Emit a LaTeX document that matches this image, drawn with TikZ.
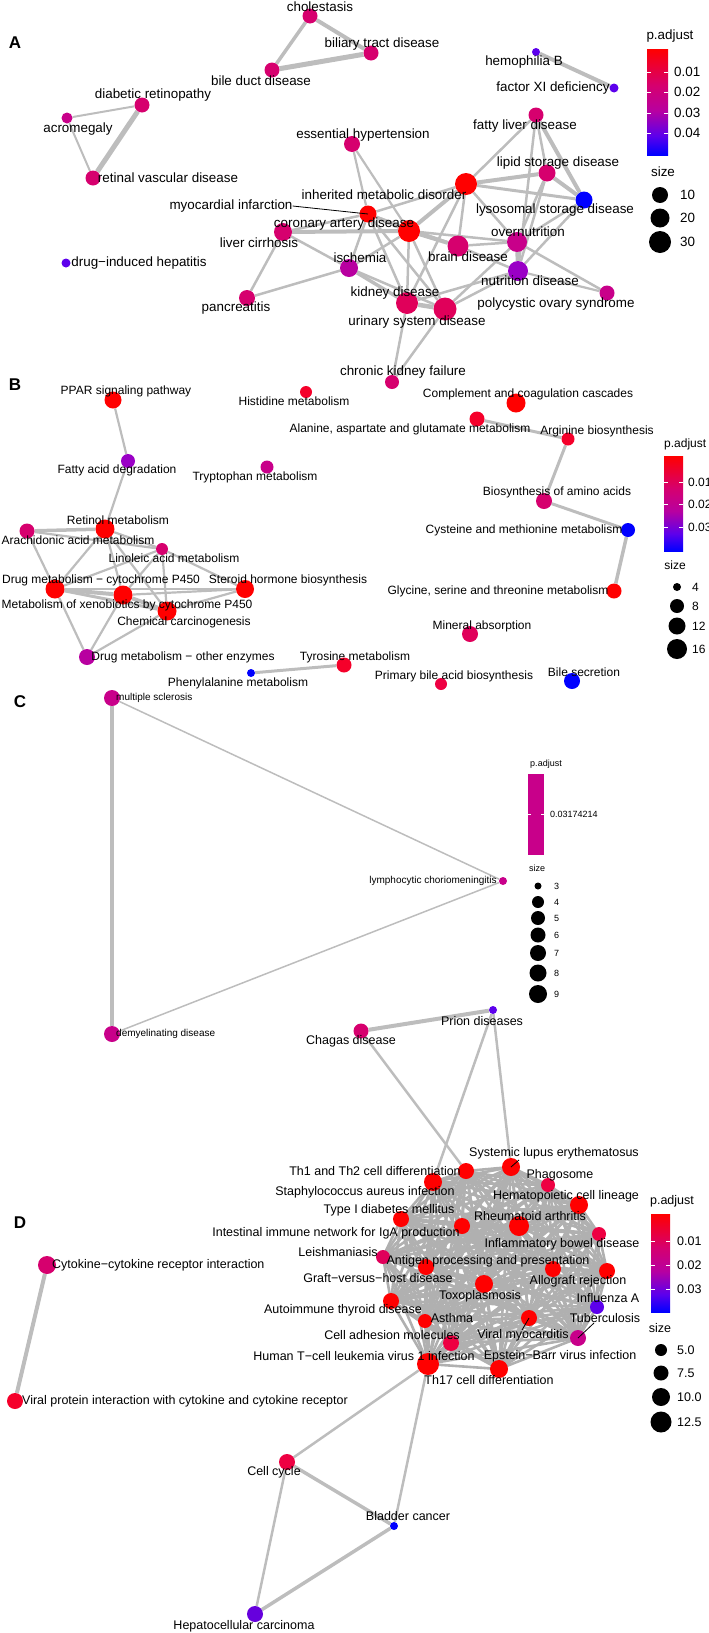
\documentclass[tikz,border=0pt]{standalone}
\usepackage{fontspec}
\setmainfont{Liberation Sans}
\usetikzlibrary{backgrounds}

\definecolor{edgegray}{HTML}{BDBDBD}
\definecolor{densegray}{HTML}{B0B0B0}
\definecolor{cRed}{HTML}{FF0000}
\definecolor{cRedP}{HTML}{F5002A}
\definecolor{cRedK}{HTML}{EE0042}
\definecolor{cPinkR}{HTML}{E0005A}
\definecolor{cPink}{HTML}{D6006E}
\definecolor{cPinkM}{HTML}{C8008A}
\definecolor{cMag}{HTML}{B800A0}
\definecolor{cPurp}{HTML}{9A00C6}
\definecolor{cViol}{HTML}{5C00EC}
\definecolor{cViolH}{HTML}{6600DD}
\definecolor{cBlue}{HTML}{0000FF}

\pgfdeclareverticalshading{padjbar}{100bp}{color(0bp)=(cBlue); color(25bp)=(cBlue);
  color(34bp)=(cViol); color(46bp)=(cMag); color(58bp)=(cPink); color(75bp)=(cRed); color(100bp)=(cRed)}

\begin{document}
\begin{tikzpicture}[x=1pt, y=-1pt,
    term/.style={circle, inner sep=0pt, minimum size=#1},
    term/.default=12,
    link/.style={draw=edgegray, line width=#1},
    link/.default=2.2,
    dense/.style={draw=densegray, line width=2.6pt},
    leader/.style={draw=black, line width=0.8pt},
    lblA/.style={font=\fontsize{13.4}{15}\selectfont, inner sep=0pt},
    lblB/.style={font=\fontsize{12}{14}\selectfont, inner sep=0pt},
    lblC/.style={font=\fontsize{10}{12}\selectfont, inner sep=0pt},
    lblD/.style={font=\fontsize{12.5}{14}\selectfont, inner sep=0pt},
    legC/.style={font=\fontsize{9}{11}\selectfont, inner sep=0pt},
    panel/.style={font=\fontsize{17}{19}\selectfont\bfseries, inner sep=0pt},
    tick/.style={draw=white, line width=0.6pt}]
    \useasboundingbox (0,0) rectangle (709,1633);

    % ---------------- Panel A ----------------
    \node[panel] (pA) at (15,43) {A};
    \node[term=15, fill=cPink] (chol) at (310,16) {};
    \node[term=15, fill=cPink] (bil) at (371,53) {};
    \node[term=15, fill=cPink] (bile) at (272,70) {};
    \node[term=15, fill=cPink] (diab) at (142,105) {};
    \node[term=11, fill=cPinkM] (acro) at (67,118) {};
    \node[term=15, fill=cPink] (retin) at (93,178) {};
    \node[term=8, fill=cViol] (hemo) at (536,52) {};
    \node[term=9, fill=cViol] (fxi) at (614,88) {};
    \node[term=15, fill=cPink] (fatty) at (536,115) {};
    \node[term=17, fill=cPink] (lipid) at (547,173) {};
    \node[term=22, fill=cRed] (imd) at (466,184) {};
    \node[term=17, fill=cBlue] (lyso) at (584,200) {};
    \node[term=17, fill=cRed] (mi) at (368,214) {};
    \node[term=22, fill=cRed] (cad) at (409,231) {};
    \node[term=16, fill=cPink] (ess) at (352,144) {};
    \node[term=18, fill=cPink] (lc) at (283,232) {};
    \node[term=18, fill=cMag] (isch) at (349,268) {};
    \node[term=9, fill=cViol] (dih) at (66,263) {};
    \node[term=16, fill=cPink] (panc) at (247,298) {};
    \node[term=21, fill=cPink] (brain) at (458,246) {};
    \node[term=20, fill=cPinkM] (overn) at (517,242) {};
    \node[term=20, fill=cPurp] (nutr) at (518,271) {};
    \node[term=15, fill=cPinkM] (poly) at (607,293) {};
    \node[term=22, fill=cPinkR] (kid) at (407,303) {};
    \node[term=23, fill=cPinkR] (uri) at (445,309) {};
    \node[term=14, fill=cPink] (ckf) at (392,382) {};

    \node[lblA] (lchol) at (320,7) {cholestasis};
    \node[lblA] (lbil) at (382,44) {biliary tract disease};
    \node[lblA] (lbile) at (261,81) {bile duct disease};
    \node[lblA] (ldiab) at (153,95) {diabetic retinopathy};
    \node[lblA] (lacro) at (78,129) {acromegaly};
    \node[lblA] (lretin) at (168,178) {retinal vascular disease};
    \node[lblA] (lhemo) at (524,62) {hemophilia B};
    \node[lblA] (lfxi) at (553,88) {factor XI deficiency};
    \node[lblA] (lfatty) at (525,126) {fatty liver disease};
    \node[lblA] (llipid) at (558,163) {lipid storage disease};
    \node[lblA] (limd) at (384,195) {inherited metabolic disorder};
    \node[lblA] (llyso) at (555,210) {lysosomal storage disease};
    \node[lblA] (lmi) at (231,206) {myocardial infarction};
    \node[lblA] (lcad) at (344,224) {coronary artery disease};
    \node[lblA] (less) at (363,135) {essential hypertension};
    \node[lblA] (llc) at (259,243) {liver cirrhosis};
    \node[lblA] (lisch) at (360,258) {ischemia};
    \node[lblA] (ldih) at (139,263) {drug−induced hepatitis};
    \node[lblA] (lpanc) at (236,308) {pancreatitis};
    \node[lblA] (lbrain) at (468,257) {brain disease};
    \node[lblA] (lovern) at (528,232) {overnutrition};
    \node[lblA] (lnutr) at (530,281) {nutrition disease};
    \node[lblA] (lpoly) at (556,304) {polycystic ovary syndrome};
    \node[lblA] (lkid) at (395,293) {kidney disease};
    \node[lblA] (luri) at (417,322) {urinary system disease};
    \node[lblA] (lckf) at (403,372) {chronic kidney failure};
    \draw[leader] (lmi.east) -- (mi.center);

    % legend A
    \node[lblA] (padjA) at (670,36) {p.adjust};
    \shade[shading=padjbar] (647,49) rectangle (668,155);
    \foreach \y/\v in {72/0.01, 92/0.02, 113/0.03, 133/0.04} {
        \draw[tick] (647,\y) -- (651,\y) (664,\y) -- (668,\y);
        \node[lblA, anchor=west] at (674,\y) {\v};
    }
    \node[lblA] (sizeA) at (663,172) {size};
    \foreach \y/\d/\v in {195/16/10, 218/19/20, 242/22/30} {
        \node[term=\d, fill=black] at (660,\y) {};
        \node[lblA, anchor=west] at (680,\y) {\v};
    }

    % ---------------- Panel B ----------------
    \node[panel] (pB) at (15,385) {B};
    \node[term=17, fill=cRed] (ppar) at (113,400) {};
    \node[term=14, fill=cPurp] (fad) at (128,461) {};
    \node[term=12, fill=cRedP] (his) at (306,392) {};
    \node[term=13, fill=cPinkM] (trp) at (267,467) {};
    \node[term=19, fill=cRed] (ret) at (105,529) {};
    \node[term=15, fill=cPink] (ara) at (27,531) {};
    \node[term=12, fill=cPink] (lin) at (162,549) {};
    \node[term=19, fill=cRed] (dp450) at (55,589) {};
    \node[term=18, fill=cRed] (ster) at (245,589) {};
    \node[term=19, fill=cRed] (xen) at (123,595) {};
    \node[term=19, fill=cRed] (chem) at (167,611) {};
    \node[term=16, fill=cMag] (dother) at (87,657) {};
    \node[term=15, fill=cRedP] (tyr) at (344,665) {};
    \node[term=8, fill=cBlue] (phe) at (251,673) {};
    \node[term=19, fill=cRed] (comp) at (516,403) {};
    \node[term=15, fill=cRedP] (ala) at (477,419) {};
    \node[term=13, fill=cRedP] (arg) at (568,439) {};
    \node[term=16, fill=cPink] (bio) at (544,501) {};
    \node[term=14, fill=cBlue] (cys) at (628,530) {};
    \node[term=15, fill=cRed] (gly) at (614,591) {};
    \node[term=16, fill=cPinkR] (mina) at (470,634) {};
    \node[term=12, fill=cRedK] (pba) at (441,684) {};
    \node[term=16, fill=cBlue] (bsec) at (572,681) {};

    \node[lblB] (lppar) at (126,391) {PPAR signaling pathway};
    \node[lblB] (lfad) at (117,470) {Fatty acid degradation};
    \node[lblB] (lhis) at (294,401) {Histidine metabolism};
    \node[lblB] (ltrp) at (255,477) {Tryptophan metabolism};
    \node[lblB] (lret) at (118,520) {Retinol metabolism};
    \node[lblB] (lara) at (78,540) {Arachidonic acid metabolism};
    \node[lblB] (llin) at (174,558) {Linoleic acid metabolism};
    \node[lblB] (ldp450) at (101,580) {Drug metabolism − cytochrome P450};
    \node[lblB] (lster) at (288,580) {Steroid hormone biosynthesis};
    \node[lblB] (lxen) at (127,605) {Metabolism of xenobiotics by cytochrome P450};
    \node[lblB] (lchem) at (184,622) {Chemical carcinogenesis};
    \node[lblB] (ldother) at (183,657) {Drug metabolism − other enzymes};
    \node[lblB] (ltyr) at (355,657) {Tyrosine metabolism};
    \node[lblB] (lphe) at (238,683) {Phenylalanine metabolism};
    \node[lblB] (lcomp) at (528,394) {Complement and coagulation cascades};
    \node[lblB] (lala) at (410,429) {Alanine, aspartate and glutamate metabolism};
    \node[lblB] (larg) at (597,431) {Arginine biosynthesis};
    \node[lblB] (lbio) at (557,492) {Biosynthesis of amino acids};
    \node[lblB] (lcys) at (524,530) {Cysteine and methionine metabolism};
    \node[lblB] (lgly) at (498,591) {Glycine, serine and threonine metabolism};
    \node[lblB] (lmina) at (482,626) {Mineral absorption};
    \node[lblB] (lpba) at (454,676) {Primary bile acid biosynthesis};
    \node[lblB] (lbsec) at (584,672) {Bile secretion};

    % legend B
    \node[lblB, anchor=west] (padjB) at (664,444) {p.adjust};
    \shade[shading=padjbar] (664,456) rectangle (683,551);
    \foreach \y/\v in {482/0.01, 504/0.02, 527/0.03} {
        \draw[tick] (664,\y) -- (668,\y) (679,\y) -- (683,\y);
        \node[lblB, anchor=west] at (688,\y) {\v};
    }
    \node[lblB] (sizeB) at (675,565) {size};
    \foreach \y/\d/\v in {587/8/4, 606/14/8, 626/17/12, 649/20/16} {
        \node[term=\d, fill=black] at (677,\y) {};
        \node[lblB, anchor=west] at (692,\y) {\v};
    }

    % ---------------- Panel C ----------------
    \node[panel] (pC) at (20,702) {C};
    \node[term=16, fill=cPinkM] (ms) at (112,698) {};
    \node[term=16, fill=cPinkM] (dem) at (112,1034) {};
    \node[term=8, fill=cPinkM] (lcm) at (503,881) {};
    \node[lblC, anchor=west] (lms) at (116,698) {multiple sclerosis};
    \node[lblC, anchor=west] (ldem) at (116,1034) {demyelinating disease};
    \node[lblC] (llcm) at (433,881) {lymphocytic choriomeningitis};

    % legend C
    \node[legC] (padjC) at (546,764) {p.adjust};
    \fill[cPinkM] (528,774) rectangle (544,855);
    \draw[tick] (528,814) -- (531,814) (541,814) -- (544,814);
    \node[legC, anchor=west] at (550,814) {0.03174214};
    \node[legC] (sizeC) at (537,868) {size};
    \foreach \y/\d/\v in {886/7/3, 902/12/4, 918/14/5, 935/15/6, 953/16/7, 973/17/8, 994/18/9} {
        \node[term=\d, fill=black] at (538,\y) {};
        \node[legC, anchor=west] at (554,\y) {\v};
    }

    % ---------------- Panel D ----------------
    \node[panel] (pD) at (20,1223) {D};
    \node[term=15, fill=cPink] (chag) at (361,1031) {};
    \node[term=8, fill=cViol] (prion) at (493,1010) {};
    \node[term=16, fill=cRed] (th1) at (466,1171) {};
    \node[term=18, fill=cRed] (staph) at (433,1182) {};
    \node[term=18, fill=cRed] (sle) at (511,1167) {};
    \node[term=14, fill=cRedK] (phago) at (548,1185) {};
    \node[term=18, fill=cRed] (hemat) at (579,1205) {};
    \node[term=16, fill=cRed] (t1d) at (401,1219) {};
    \node[term=20, fill=cRed] (rheum) at (519,1226) {};
    \node[term=16, fill=cRed] (iga) at (462,1226) {};
    \node[term=14, fill=cRedK] (ibd) at (599,1234) {};
    \node[term=14, fill=cPinkR] (leish) at (383,1257) {};
    \node[term=16, fill=cRed] (antig) at (426,1267) {};
    \node[term=16, fill=cRed] (gvh) at (553,1269) {};
    \node[term=16, fill=cRed] (allo) at (607,1271) {};
    \node[term=18, fill=cRed] (toxo) at (484,1284) {};
    \node[term=14, fill=cViol] (flu) at (597,1307) {};
    \node[term=16, fill=cRed] (autoi) at (391,1301) {};
    \node[term=14, fill=cRed] (asth) at (425,1321) {};
    \node[term=16, fill=cRed] (vmyo) at (529,1318) {};
    \node[term=16, fill=cPinkM] (tb) at (578,1338) {};
    \node[term=16, fill=cRedK] (cam) at (451,1343) {};
    \node[term=22, fill=cRed] (htlv) at (428,1364) {};
    \node[term=18, fill=cRed] (ebv) at (499,1369) {};
    \node[term=18, fill=cPink] (cyto) at (47,1265) {};
    \node[term=16, fill=cRedP] (vpi) at (15,1401) {};
    \node[term=16, fill=cRedK] (ccyc) at (287,1462) {};
    \node[term=8, fill=cBlue] (blad) at (394,1526) {};
    \node[term=16, fill=cViolH] (hcc) at (255,1614) {};

    \node[lblD] (lchag) at (351,1041) {Chagas disease};
    \node[lblD] (lprion) at (482,1021) {Prion diseases};
    \node[lblD] (lsle) at (554,1153) {Systemic lupus erythematosus};
    \node[lblD] (lth1) at (375,1171) {Th1 and Th2 cell differentiation};
    \node[lblD] (lphago) at (560,1175) {Phagosome};
    \node[lblD] (lstaph) at (365,1192) {Staphylococcus aureus infection};
    \node[lblD] (lhemat) at (566,1196) {Hematopoietic cell lineage};
    \node[lblD] (lt1d) at (389,1210) {Type I diabetes mellitus};
    \node[lblD] (lrheum) at (530,1216) {Rheumatoid arthritis};
    \node[lblD] (liga) at (336,1233) {Intestinal immune network for IgA production};
    \node[lblD] (libd) at (562,1244) {Inflammatory bowel disease};
    \node[lblD] (lleish) at (338,1252) {Leishmaniasis};
    \node[lblD] (lantig) at (488,1261) {Antigen processing and presentation};
    \node[lblD] (lgvh) at (378,1278) {Graft−versus−host disease};
    \node[lblD] (lallo) at (578,1281) {Allograft rejection};
    \node[lblD] (ltoxo) at (480,1296) {Toxoplasmosis};
    \node[lblD] (lflu) at (608,1298) {Influenza A};
    \node[lblD] (lautoi) at (343,1310) {Autoimmune thyroid disease};
    \node[lblD] (lasth) at (452,1318) {Asthma};
    \node[lblD] (ltb) at (605,1318) {Tuberculosis};
    \node[lblD] (lvmyo) at (523,1335) {Viral myocarditis};
    \node[lblD] (lcam) at (392,1335) {Cell adhesion molecules};
    \node[lblD] (lhtlv) at (364,1356) {Human T−cell leukemia virus 1 infection};
    \node[lblD] (lebv) at (560,1356) {Epstein−Barr virus infection};
    \node[lblD] (lth17) at (489,1380) {Th17 cell differentiation};
    \node[lblD, anchor=west] (lcyto) at (52,1265) {Cytokine−cytokine receptor interaction};
    \node[lblD, anchor=west] (lvpi) at (22,1401) {Viral protein interaction with cytokine and cytokine receptor};
    \node[lblD] (lccyc) at (274,1472) {Cell cycle};
    \node[lblD] (lblad) at (408,1516) {Bladder cancer};
    \node[lblD] (lhcc) at (244,1626) {Hepatocellular carcinoma};

    \coordinate (sleTip) at (519,1160);
    \coordinate (vmyoTip) at (522,1330);
    \coordinate (tbTip) at (594,1323);
    \draw[leader] (sleTip) -- (sle.center);
    \draw[leader] (vmyoTip) -- (vmyo.center);
    \draw[leader] (tbTip) -- (tb.center);

    % legend D
    \node[lblD] (padjD) at (672,1201) {p.adjust};
    \shade[shading=padjbar] (651,1214) rectangle (670,1312);
    \foreach \y/\v in {1241/0.01, 1265/0.02, 1289/0.03} {
        \draw[tick] (651,\y) -- (655,\y) (666,\y) -- (670,\y);
        \node[lblD, anchor=west] at (677,\y) {\v};
    }
    \node[lblD] (sizeD) at (660,1328) {size};
    \foreach \y/\d/\v in {1350/12/5.0, 1373/15/7.5, 1397/18/10.0, 1422/21/12.5} {
        \node[term=\d, fill=black] at (661,\y) {};
        \node[lblD, anchor=west] at (677,\y) {\v};
    }

    % ---------------- Edges ----------------
    \begin{scope}[on background layer]
        \foreach \a/\b/\w in {chol/bil/4, chol/bile/3.5, bile/bil/5, diab/acro/2, acro/retin/2,
            diab/retin/5, hemo/fxi/4, ess/mi/2.2, ess/cad/2.2,
            fatty/imd/2.5, fatty/lyso/4, fatty/lipid/2.5, fatty/nutr/2.5,
            imd/lipid/4, imd/lyso/3, imd/cad/4, imd/mi/2.5, imd/kid/2.5, imd/overn/2.5, imd/brain/2.5,
            lipid/lyso/4, lipid/overn/2.5, lipid/nutr/2.5, lyso/nutr/2.5, lyso/overn/2.5,
            overn/nutr/4, overn/poly/2.5, nutr/poly/2.2,
            brain/cad/4, brain/overn/2.5, brain/nutr/2.5, brain/mi/2.5,
            cad/mi/4, cad/lc/4, cad/isch/2.5, cad/kid/2.5, cad/uri/2.5, cad/overn/2.5,
            mi/lc/2.5, mi/isch/2.5, mi/kid/2.5, mi/uri/2.5,
            lc/isch/2.5, lc/panc/2.5, isch/panc/2.5, isch/kid/3.5, isch/uri/2.5,
            kid/uri/4.5, kid/ckf/2.5, uri/ckf/2.5, kid/nutr/2.5, uri/nutr/2.5, uri/overn/2.5}
            \draw[link=\w] (\a) -- (\b);

        \foreach \a/\b/\w in {ppar/fad/2.2, fad/ret/2.2, ala/arg/3, arg/bio/3, bio/cys/3,
            cys/gly/3.5, phe/tyr/3, ara/ret/3.5, ara/lin/2.2, ara/dp450/2.2, ret/lin/2.2,
            ret/dp450/2.2, ret/xen/2.2, ret/chem/2.2, lin/dp450/2.2, lin/ster/2.2, lin/chem/2.2,
            lin/xen/2.2, dp450/xen/4, dp450/chem/3, dp450/ster/2.2, dp450/dother/2.2,
            xen/chem/4, xen/ster/2.2, xen/dother/2.2, chem/ster/2.2, chem/dother/2.2}
            \draw[link=\w] (\a) -- (\b);

        \foreach \a/\b/\w in {ms/dem/4, ms/lcm/1.5, dem/lcm/1.5}
            \draw[link=\w] (\a) -- (\b);

        \foreach \a/\b/\w in {chag/prion/4, chag/th1/2.5, prion/staph/2.5, prion/sle/2.5,
            htlv/ccyc/2.5, htlv/blad/2.5, ccyc/blad/3.5, ccyc/hcc/2.5, blad/hcc/3.5, cyto/vpi/4}
            \draw[link=\w] (\a) -- (\b);

        % dense immune cluster
        \def\clusterD{th1,staph,sle,phago,hemat,t1d,rheum,iga,ibd,leish,antig,gvh,allo,toxo,flu,autoi,asth,vmyo,tb,cam,htlv,ebv}
        \foreach \a [count=\i] in \clusterD {
            \foreach \b [count=\j] in \clusterD {
                \ifnum\j>\i \draw[dense] (\a.center) -- (\b.center); \fi
            }
        }
    \end{scope}
\end{tikzpicture}
\end{document}
